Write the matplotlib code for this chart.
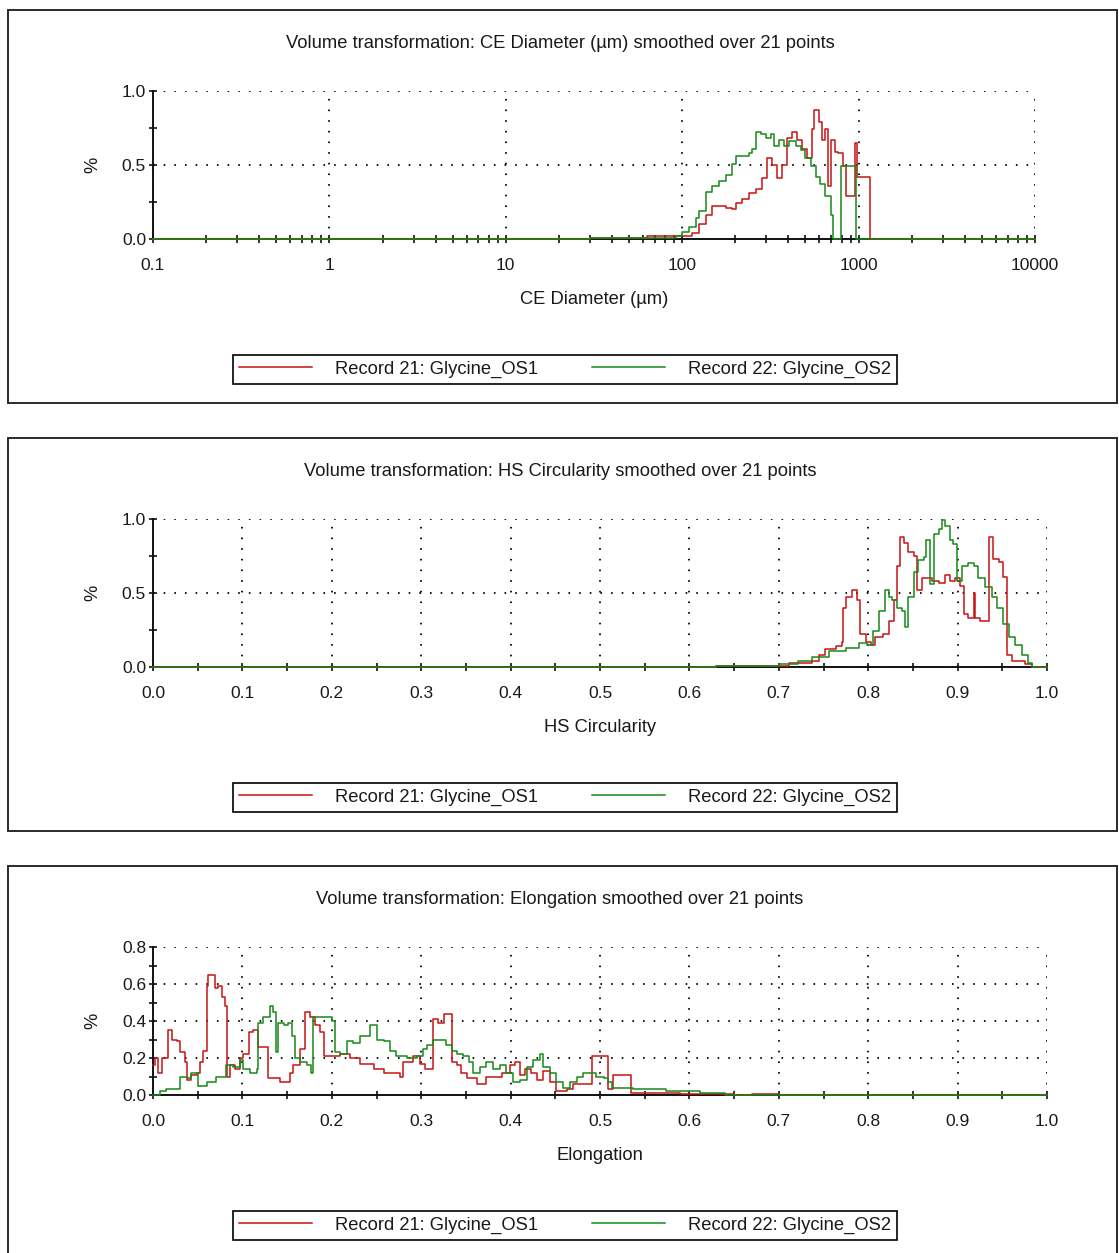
import matplotlib
matplotlib.use("Agg")
import matplotlib.pyplot as plt
from matplotlib.patches import Rectangle
from matplotlib.ticker import FixedLocator, FuncFormatter, MultipleLocator, NullFormatter

# ---------------------------------------------------------------- data
series_names = ["Record 21: Glycine_OS1", "Record 22: Glycine_OS2"]

# CE Diameter (um) distributions
ce_x_os1 = [0.1, 30, 34, 63, 92, 105, 113, 124, 136, 147, 161, 177, 191, 201, 217, 238,
            261, 282, 301, 321, 343, 366, 391, 417, 445, 475, 507, 541, 562, 593, 617,
            649, 675, 702, 739, 769, 820, 853, 910, 959, 985, 1166, 10000]
ce_y_os1 = [0, 0.005, 0.01, 0.02, 0.02, 0.02, 0.04, 0.10, 0.16, 0.22, 0.22, 0.21, 0.20, 0.24,
            0.27, 0.31, 0.34, 0.41, 0.55, 0.50, 0.41, 0.50, 0.68, 0.72, 0.67, 0.61, 0.55,
            0.74, 0.87, 0.79, 0.67, 0.74, 0.36, 0.67, 0.59, 0.58, 0.49, 0.29, 0.29, 0.65,
            0.42, 0, 0]
ce_x_os2 = [0.1, 30, 63, 92, 99.5, 109, 119, 124, 136, 147, 161, 177, 191, 201, 217, 238,
            248, 261, 278, 297, 317, 330, 352, 376, 401, 439, 469, 500, 534, 570, 608, 649,
            693, 720, 790, 972, 10000]
ce_y_os2 = [0, 0.005, 0.01, 0.02, 0.05, 0.08, 0.14, 0.19, 0.32, 0.36, 0.39, 0.43, 0.51, 0.56,
            0.56, 0.58, 0.61, 0.72, 0.71, 0.68, 0.71, 0.63, 0.67, 0.63, 0.66, 0.63, 0.60,
            0.55, 0.49, 0.42, 0.37, 0.29, 0.16, 0, 0.49, 0, 0]

# HS Circularity distributions
hs_x_os1 = [0.0, 0.63, 0.70, 0.711, 0.7375, 0.745, 0.752, 0.764, 0.771, 0.772, 0.775, 0.782,
            0.788, 0.791, 0.797, 0.803, 0.808, 0.816, 0.823, 0.829, 0.832, 0.836, 0.840,
            0.845, 0.851, 0.855, 0.860, 0.871, 0.879, 0.886, 0.892, 0.897, 0.903, 0.907,
            0.912, 0.918, 0.920, 0.925, 0.935, 0.940, 0.946, 0.951, 0.955, 0.961, 0.975,
            0.983, 1.0]
hs_y_os1 = [0, 0.005, 0.01, 0.03, 0.04, 0.08, 0.12, 0.14, 0.17, 0.40, 0.47, 0.52, 0.45, 0.22,
            0.17, 0.15, 0.20, 0.22, 0.31, 0.45, 0.68, 0.88, 0.84, 0.78, 0.75, 0.52, 0.60,
            0.58, 0.57, 0.62, 0.58, 0.60, 0.55, 0.36, 0.33, 0.50, 0.33, 0.31, 0.88, 0.73,
            0.71, 0.61, 0.08, 0.04, 0.02, 0, 0]
hs_x_os2 = [0.0, 0.63, 0.70, 0.722, 0.7375, 0.756, 0.775, 0.790, 0.799, 0.805, 0.812, 0.819,
            0.823, 0.827, 0.832, 0.838, 0.841, 0.845, 0.851, 0.856, 0.862, 0.865, 0.869,
            0.874, 0.879, 0.882, 0.886, 0.892, 0.895, 0.899, 0.905, 0.912, 0.918, 0.923,
            0.931, 0.938, 0.944, 0.951, 0.957, 0.964, 0.972, 0.979, 0.983, 1.0]
hs_y_os2 = [0, 0.005, 0.02, 0.04, 0.07, 0.11, 0.13, 0.16, 0.15, 0.24, 0.38, 0.52, 0.47, 0.45,
            0.40, 0.38, 0.27, 0.47, 0.64, 0.72, 0.74, 0.86, 0.56, 0.90, 0.93, 0.99, 0.95,
            0.86, 0.83, 0.58, 0.68, 0.70, 0.68, 0.60, 0.54, 0.47, 0.40, 0.29, 0.20, 0.15,
            0.08, 0.03, 0, 0]

# Elongation distributions
el_x_os1 = [0.0, 0.002, 0.006, 0.010, 0.017, 0.021, 0.027, 0.030, 0.036, 0.038, 0.043, 0.049,
            0.053, 0.056, 0.060, 0.062, 0.069, 0.073, 0.077, 0.081, 0.083, 0.086, 0.092,
            0.097, 0.101, 0.107, 0.112, 0.118, 0.129, 0.142, 0.153, 0.157, 0.164, 0.170,
            0.176, 0.181, 0.187, 0.191, 0.209, 0.220, 0.232, 0.247, 0.258, 0.276, 0.280,
            0.291, 0.299, 0.304, 0.313, 0.319, 0.326, 0.334, 0.340, 0.345, 0.351, 0.362,
            0.373, 0.390, 0.399, 0.405, 0.410, 0.416, 0.423, 0.429, 0.436, 0.444, 0.451,
            0.463, 0.470, 0.491, 0.509, 0.515, 0.535, 0.59, 0.65, 0.67, 0.70, 1.0]
el_y_os1 = [0.16, 0.20, 0.12, 0.20, 0.35, 0.30, 0.29, 0.23, 0.18, 0.08, 0.11, 0.12, 0.18,
            0.24, 0.59, 0.65, 0.58, 0.59, 0.53, 0.48, 0.10, 0.16, 0.14, 0.20, 0.22, 0.34,
            0.35, 0.26, 0.09, 0.07, 0.12, 0.16, 0.25, 0.45, 0.42, 0.38, 0.34, 0.21, 0.22,
            0.20, 0.17, 0.14, 0.12, 0.10, 0.18, 0.21, 0.17, 0.14, 0.41, 0.39, 0.44, 0.18,
            0.16, 0.12, 0.09, 0.06, 0.10, 0.12, 0.16, 0.18, 0.11, 0.14, 0.12, 0.08, 0.13,
            0.07, 0.02, 0.03, 0.06, 0.21, 0.03, 0.11, 0.01, 0.005, 0, 0.005, 0, 0]
el_x_os2 = [0.0, 0.008, 0.015, 0.030, 0.038, 0.043, 0.050, 0.060, 0.071, 0.082, 0.090, 0.097,
            0.101, 0.108, 0.116, 0.118, 0.123, 0.131, 0.134, 0.138, 0.140, 0.146, 0.151,
            0.155, 0.159, 0.164, 0.172, 0.177, 0.179, 0.188, 0.200, 0.204, 0.209, 0.217,
            0.224, 0.231, 0.243, 0.250, 0.258, 0.265, 0.272, 0.284, 0.295, 0.302, 0.306,
            0.313, 0.321, 0.328, 0.334, 0.340, 0.347, 0.353, 0.358, 0.366, 0.373, 0.380,
            0.388, 0.395, 0.403, 0.410, 0.418, 0.425, 0.433, 0.436, 0.444, 0.451, 0.459,
            0.466, 0.474, 0.481, 0.489, 0.496, 0.504, 0.509, 0.513, 0.537, 0.574, 0.612,
            0.64, 1.0]
el_y_os2 = [0.0, 0.02, 0.03, 0.10, 0.09, 0.12, 0.05, 0.07, 0.10, 0.16, 0.15, 0.19, 0.14,
            0.12, 0.14, 0.39, 0.42, 0.48, 0.45, 0.23, 0.39, 0.38, 0.39, 0.32, 0.20, 0.18,
            0.16, 0.12, 0.42, 0.42, 0.40, 0.23, 0.22, 0.29, 0.28, 0.32, 0.38, 0.30, 0.29,
            0.24, 0.21, 0.20, 0.21, 0.25, 0.27, 0.30, 0.30, 0.27, 0.24, 0.22, 0.21, 0.18,
            0.12, 0.15, 0.18, 0.14, 0.16, 0.12, 0.07, 0.08, 0.15, 0.19, 0.22, 0.15, 0.12,
            0.07, 0.04, 0.07, 0.10, 0.12, 0.12, 0.10, 0.09, 0.07, 0.04, 0.03, 0.02, 0.01,
            0.0, 0.0]

titles = ["Volume transformation: CE Diameter (\u00b5m) smoothed over 21 points",
          "Volume transformation: HS Circularity smoothed over 21 points",
          "Volume transformation: Elongation smoothed over 21 points"]
x_labels = ["CE Diameter (\u00b5m)", "HS Circularity", "Elongation"]
ce_ticks = [0.1, 1, 10, 100, 1000, 10000]
ce_tick_labels = ["0.1", "1", "10", "100", "1000", "10000"]

# ---------------------------------------------------------------- layout
W, H, DPI = 1119, 1253, 100
plt.rcParams['font.family'] = ['Liberation Sans', 'DejaVu Sans']
FS = 13.2        # titles, axis labels, legend
FS_TICK = 12.5   # tick labels
TXT = '#1a1a1a'
RED = '#c81414'
GREEN = '#168a16'

fig = plt.figure(figsize=(W / DPI, H / DPI), dpi=DPI)


def fx(px):
    return px / W


def fy(py):
    return 1 - py / H


panels = [
    dict(xs=(ce_x_os1, ce_x_os2), ys=(ce_y_os1, ce_y_os2), log=True, right=1035,
         ylim=(0, 1.0), ymaj=0.5, ymin=0.25),
    dict(xs=(hs_x_os1, hs_x_os2), ys=(hs_y_os1, hs_y_os2), log=False, right=1047,
         ylim=(0, 1.0), ymaj=0.5, ymin=0.25),
    dict(xs=(el_x_os1, el_x_os2), ys=(el_y_os1, el_y_os2), log=False, right=1047,
         ylim=(0, 0.8), ymaj=0.2, ymin=0.1),
]

for i, p in enumerate(panels):
    top = 10 + 428 * i
    # outer frame of the panel
    fig.add_artist(Rectangle((fx(8), fy(top + 393)), fx(1117) - fx(8),
                             fy(top) - fy(top + 393), transform=fig.transFigure,
                             fill=False, edgecolor='#2a2a2a', lw=1.4))
    left, right = 153, p['right']
    ax = fig.add_axes([fx(left), fy(top + 229), fx(right) - fx(left),
                       fy(top + 81) - fy(top + 229)])

    lines = []
    for xs, ys, c in zip(p['xs'], p['ys'], (RED, GREEN)):
        ln, = ax.plot(xs, ys, color=c, lw=1.1, drawstyle='steps-post',
                      zorder=3, clip_on=False)
        lines.append(ln)

    if p['log']:
        ax.set_xscale('log')
        ax.set_xlim(0.1, 10000)
        ax.xaxis.set_major_locator(FixedLocator(ce_ticks))
        ax.xaxis.set_major_formatter(FuncFormatter(
            lambda v, pos: ce_tick_labels[ce_ticks.index(v)] if v in ce_ticks else ""))
        minors = [m * 10.0 ** e for e in range(-1, 4) for m in range(2, 10)]
        ax.xaxis.set_minor_locator(FixedLocator(minors))
        ax.xaxis.set_minor_formatter(NullFormatter())
    else:
        ax.set_xlim(0, 1.0)
        ax.xaxis.set_major_locator(MultipleLocator(0.1))
        ax.xaxis.set_minor_locator(MultipleLocator(0.05))
        ax.xaxis.set_major_formatter(FuncFormatter(lambda v, pos: f"{v:.1f}"))

    ax.set_ylim(*p['ylim'])
    ax.yaxis.set_major_locator(MultipleLocator(p['ymaj']))
    ax.yaxis.set_minor_locator(MultipleLocator(p['ymin']))
    ax.yaxis.set_major_formatter(FuncFormatter(lambda v, pos: f"{v:.1f}"))

    for s in ('top', 'right'):
        ax.spines[s].set_visible(False)
    for s in ('left', 'bottom'):
        ax.spines[s].set_linewidth(1.4)
        ax.spines[s].set_color('#111111')

    ax.tick_params(which='both', direction='inout', length=6, width=1.2,
                   color='#111111', labelsize=FS_TICK, labelcolor=TXT)
    ax.tick_params(axis='x', which='major', pad=11)
    ax.tick_params(axis='y', which='major', pad=2)
    ax.grid(True, which='major', color='black', lw=1.3,
            linestyle=(0, (0.9, 5.0)))
    ax.set_axisbelow(True)

    fig.text(fx(560), fy(top + 33), titles[i], ha='center', va='center',
             fontsize=FS, color=TXT)
    fig.text(fx((left + right) / 2), fy(top + 289), x_labels[i], ha='center',
             va='center', fontsize=FS, color=TXT)
    fig.text(fx(93), fy(top + 155), '%', rotation=90, ha='center', va='center',
             fontsize=FS, color=TXT)

    leg = fig.legend(lines, series_names, loc='center',
                     bbox_to_anchor=(fx(233), fy(top + 373), fx(897) - fx(233),
                                     fy(top + 346) - fy(top + 373)),
                     mode='expand', ncol=2, fancybox=False, framealpha=1,
                     edgecolor='black', borderaxespad=0, borderpad=0.32,
                     handlelength=4.0, handletextpad=1.25, fontsize=FS)
    leg.get_frame().set_linewidth(1.2)
    for t in leg.get_texts():
        t.set_color(TXT)

fig.savefig('out.png', dpi=DPI)
